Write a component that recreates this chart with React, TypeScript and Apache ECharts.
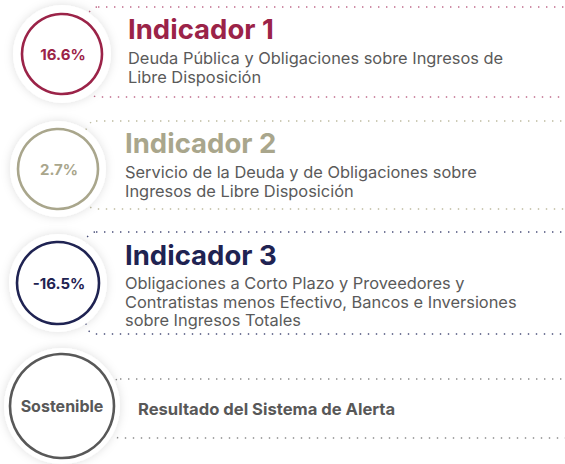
import React, { useEffect, useRef } from "react";
import * as echarts from "echarts";

// ---- data ----
const indicatorTitles = ["Indicador 1", "Indicador 2", "Indicador 3"];
const indicatorValues = ["16.6%", "2.7%", "-16.5%"];
const indicatorDescriptions = [
  ["Deuda Pública y Obligaciones sobre Ingresos de", "Libre Disposición"],
  ["Servicio de la Deuda y de Obligaciones sobre", "Ingresos de Libre Disposición"],
  [
    "Obligaciones a Corto Plazo y Proveedores y",
    "Contratistas menos Efectivo, Bancos e Inversiones",
    "sobre Ingresos Totales",
  ],
];
const resultValue = "Sostenible";
const resultLabel = "Resultado del Sistema de Alerta";

// ---- styles / layout ----
const colors = ["#9B2348", "#A9A68C", "#1F2352"];
const dotColors = ["#C06A8A", "#BDBA9F", "#4A4F7A"];
const resultColor = "#585858";
const FONT = "Inter, 'Open Sans', sans-serif";
const LINE_H = 18.5;

const rows = [
  { cx: 62, cy: 54, r: 40, halo: 49, tx: 128, ty: 29, dy: 58, top: 7, bottom: 97, lx: 88 },
  { cx: 58, cy: 169, r: 40, halo: 48, tx: 125, ty: 143, dy: 172, top: 121, bottom: 209, lx: 86 },
  { cx: 58, cy: 283, r: 41, halo: 49, tx: 125, ty: 255, dy: 283, top: 232, bottom: 334, lx: 86 },
];
const resultRow = { cx: 62, cy: 406, r: 52, halo: 58, tx: 138, ty: 409, top: 379, bottom: 438, lx: 110 };

function dottedRect(x: number, y1: number, y2: number, color: string) {
  return {
    type: "rect",
    shape: { x, y: y1, width: 560, height: y2 - y1, r: 10 },
    style: { fill: "none", stroke: color, lineWidth: 1.4, lineDash: [1.4, 6.6] },
    silent: true,
  };
}

function circleGroup(cx: number, cy: number, r: number, halo: number, color: string) {
  return [
    {
      type: "circle",
      shape: { cx, cy, r: halo },
      style: { fill: "#fff", shadowBlur: 10, shadowColor: "rgba(0,0,0,0.13)" },
      silent: true,
    },
    {
      type: "circle",
      shape: { cx, cy, r },
      style: { fill: "#fff", stroke: color, lineWidth: 2.6 },
      silent: true,
    },
  ];
}

export default function App() {
  const ref = useRef<HTMLDivElement>(null);
  useEffect(() => {
    if (!ref.current) return;
    const chart = echarts.init(ref.current, null, { renderer: "svg" });
    const elements: any[] = [];
    rows.forEach((row, i) => {
      elements.push(dottedRect(row.lx, row.top, row.bottom, dotColors[i]));
    });
    elements.push(dottedRect(resultRow.lx, resultRow.top, resultRow.bottom, "#8a8a8a"));
    rows.forEach((row, i) => {
      elements.push(...circleGroup(row.cx, row.cy, row.r, row.halo, colors[i]));
      elements.push({
        type: "text",
        x: row.cx + 1,
        y: row.cy,
        style: {
          text: indicatorValues[i],
          fill: colors[i],
          font: `bold 15px ${FONT}`,
          align: "center",
          verticalAlign: "middle",
        },
      });
      elements.push({
        type: "text",
        x: row.tx,
        y: row.ty,
        style: {
          text: indicatorTitles[i],
          fill: colors[i],
          font: `bold 27.5px ${FONT}`,
          align: "left",
          verticalAlign: "middle",
        },
      });
      elements.push({
        type: "text",
        x: row.tx,
        y: row.dy - LINE_H / 2,
        style: {
          text: indicatorDescriptions[i].join("\n"),
          fill: "#5a5a5a",
          font: `400 16.4px ${FONT}`,
          lineHeight: LINE_H,
          align: "left",
          verticalAlign: "top",
        },
      });
    });
    elements.push(...circleGroup(resultRow.cx, resultRow.cy, resultRow.r, resultRow.halo, resultColor));
    elements.push({
      type: "text",
      x: resultRow.cx,
      y: resultRow.cy,
      style: {
        text: resultValue,
        fill: resultColor,
        font: `bold 16px ${FONT}`,
        align: "center",
        verticalAlign: "middle",
      },
    });
    elements.push({
      type: "text",
      x: resultRow.tx,
      y: resultRow.ty,
      style: {
        text: resultLabel,
        fill: resultColor,
        font: `bold 16.6px ${FONT}`,
        align: "left",
        verticalAlign: "middle",
      },
    });
    chart.setOption({
      animation: false,
      backgroundColor: "#fff",
      graphic: { elements },
    });
    return () => chart.dispose();
  }, []);
  return (
    <div
      ref={ref}
      style={{ position: "absolute", left: 0, top: 0, width: 565, height: 464 }}
    />
  );
}
